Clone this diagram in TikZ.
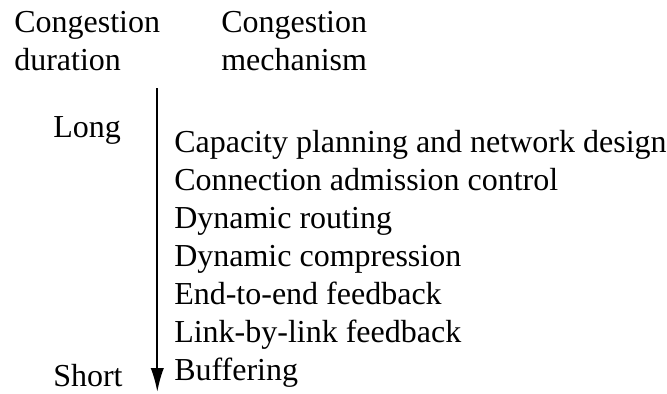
\documentclass[tikz,border=0pt]{standalone}
\usepackage{fontspec}
\setmainfont{Liberation Serif}
\usetikzlibrary{arrows.meta}
\begin{document}
\begin{tikzpicture}[x=0.75pt,y=-0.75pt,
  lbl/.style={anchor=base west,inner sep=0pt,font=\fontsize{24}{28}\selectfont},
  axis/.style={line width=1.5pt,-{Latex[length=18pt,width=10pt]}}]
\useasboundingbox (0,0) rectangle (667,393);
\node[lbl] (h1a) at (14,32) {Congestion};
\node[lbl] (h1b) at (14,70) {duration};
\node[lbl] (h2a) at (221,32) {Congestion};
\node[lbl] (h2b) at (221,70) {mechanism};
\node[lbl] (long) at (53,137) {Long};
\node[lbl] (short) at (53,386) {Short};
\node[lbl] (m1) at (174,152) {Capacity planning and network design};
\node[lbl] (m2) at (174,190) {Connection admission control};
\node[lbl] (m3) at (174,228) {Dynamic routing};
\node[lbl] (m4) at (174,266) {Dynamic compression};
\node[lbl] (m5) at (174,304) {End-to-end feedback};
\node[lbl] (m6) at (174,342) {Link-by-link feedback};
\node[lbl] (m7) at (174,380) {Buffering};
\coordinate (top) at (157.3,88);
\coordinate (bot) at (157.3,392);
\draw[axis] (top) -- (bot);
\end{tikzpicture}
\end{document}
